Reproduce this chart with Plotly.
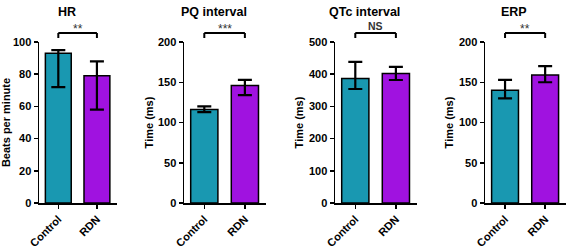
import plotly.graph_objects as go

# ---------------- data ----------------
categories = ["Control", "RDN"]
panel_titles = ["HR", "PQ interval", "QTc interval", "ERP"]
y_titles = ["Beats per minute", "Time (ms)", "Time (ms)", "Time (ms)"]
significance = ["**", "***", "NS", "**"]

hr_mean = [93, 79]
hr_upper = [95, 88]
hr_lower = [72, 58]

pq_mean = [116, 146]
pq_upper = [120, 153]
pq_lower = [113, 134]

qtc_mean = [387, 402]
qtc_upper = [438, 423]
qtc_lower = [354, 382]

erp_mean = [140, 159]
erp_upper = [153, 170]
erp_lower = [130, 150]

y_max = [100, 200, 500, 200]
y_step = [20, 50, 100, 50]

# ---------------- style ----------------
W, H = 567, 248
bar_colors = ["#1998B1", "#A012E0"]
FONT = "Liberation Sans"
panel_px = [(39, 117), (184, 266), (335, 417), (485, 566)]
title_standoff = [7, 2, 3, 3]
y_bottom_px, y_top_px = 203, 42

means = [hr_mean, pq_mean, qtc_mean, erp_mean]
uppers = [hr_upper, pq_upper, qtc_upper, erp_upper]
lowers = [hr_lower, pq_lower, qtc_lower, erp_lower]

fig = go.Figure()
layout = dict(
    width=W, height=H,
    margin=dict(l=0, r=0, t=0, b=0, autoexpand=False),
    paper_bgcolor="white", plot_bgcolor="white",
    showlegend=False,
    font=dict(family=FONT, color="black"),
)
annotations = []
shapes = []
ydom = [1 - y_bottom_px / H, 1 - y_top_px / H]

for i in range(4):
    xa = "x" if i == 0 else f"x{i+1}"
    ya = "y" if i == 0 else f"y{i+1}"
    m, u, lo = means[i], uppers[i], lowers[i]
    fig.add_trace(go.Bar(
        x=categories, y=m,
        marker=dict(color=bar_colors, line=dict(color="black", width=1.5)),
        error_y=dict(type="data", symmetric=False,
                     array=[a - b for a, b in zip(u, m)],
                     arrayminus=[b - c for b, c in zip(m, lo)],
                     color="black", thickness=2.2, width=7),
        xaxis=xa, yaxis=ya, width=0.67, hoverinfo="skip",
    ))
    x0, x1 = panel_px[i]
    layout["xaxis" if i == 0 else f"xaxis{i+1}"] = dict(
        domain=[x0 / W, x1 / W], anchor=ya, automargin=False,
        range=[-0.5, 1.52], type="category",
        showline=True, linecolor="black", linewidth=1.5,
        ticks="outside", ticklen=4, tickwidth=1.5, tickcolor="black",
        tickangle=-45, showgrid=False, zeroline=False,
        tickfont=dict(family=FONT, size=11, color="black", weight="bold"),
    )
    layout["yaxis" if i == 0 else f"yaxis{i+1}"] = dict(
        domain=ydom, anchor=xa, automargin=False,
        range=[0, y_max[i]], dtick=y_step[i], tick0=0,
        showline=True, linecolor="black", linewidth=1.5,
        ticks="outside", ticklen=4, tickwidth=1.5, tickcolor="black",
        showgrid=False, zeroline=False,
        tickfont=dict(family=FONT, size=11, color="black", weight="bold"),
        title=dict(text=y_titles[i], standoff=title_standoff[i],
                   font=dict(family=FONT, size=11, color="black", weight="bold")),
    )
    # panel title
    annotations.append(dict(
        text=f"<b>{panel_titles[i]}</b>", xref=f"{xa} domain", yref="paper",
        x=0.36, y=1 - 12 / H, xanchor="center", yanchor="middle",
        showarrow=False, font=dict(family=FONT, size=12.5, color="black"),
    ))
    # significance bracket
    yb_top = 1 - 33 / H
    yb_bot = 1 - 38 / H
    for (xs, xe, ys, ye) in [(0, 0, yb_bot, yb_top), (0, 1, yb_top, yb_top), (1, 1, yb_top, yb_bot)]:
        shapes.append(dict(type="line", xref=xa, yref="paper",
                           x0=categories[xs], x1=categories[xe], y0=ys, y1=ye,
                           line=dict(color="black", width=2)))
    is_ns = significance[i] == "NS"
    annotations.append(dict(
        text="<b>NS</b>" if is_ns else significance[i],
        xref=xa, yref="paper", x=0.5,
        y=(1 - 33 / H) if is_ns else (1 - 37 / H),
        xanchor="center", yanchor="bottom", showarrow=False, borderpad=0,
        font=dict(family=FONT, size=10.5 if is_ns else 12, color="#333"),
    ))

layout["annotations"] = annotations
layout["shapes"] = shapes
fig.update_layout(**layout)
fig.write_html(
    "out.html",
    config={"displayModeBar": False, "staticPlot": True},
    post_script="document.body.style.margin='0';document.body.style.padding='0';"
                "document.body.style.overflow='hidden';",
)
